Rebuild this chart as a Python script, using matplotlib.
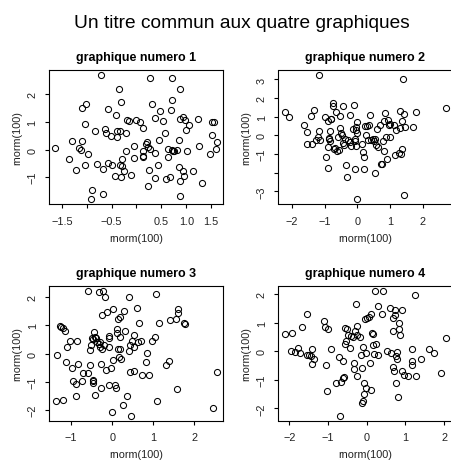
import matplotlib
matplotlib.use("Agg")
import matplotlib.pyplot as plt
import numpy as np

plt.rcParams['font.family'] = ['Liberation Sans', 'DejaVu Sans']

# ---- data (rnorm(100) vs rnorm(100)) ----
x1 = [-1.63, -1.35, -1.30, -1.22, -1.16, -1.12, -1.10, -1.10, -1.01, -1.04,
      -1.03, -0.97, -0.90, -0.91, -0.84, -0.80, -0.71, -0.67, -0.68, -0.64,
      -0.62, -0.58, -0.57, -0.52, -0.49, -0.42, -0.43, -0.40, -0.40, -0.36,
      -0.34, -0.34, -0.32, -0.32, -0.30, -0.29, -0.26, -0.21, -0.21, -0.19,
      -0.15, -0.12, -0.06, -0.05, -0.02, 0.07, 0.13, 0.13, 0.13, 0.14,
      0.19, 0.22, 0.24, 0.25, 0.24, 0.28, 0.28, 0.31, 0.38, 0.38,
      0.38, 0.44, 0.46, 0.47, 0.54, 0.58, 0.59, 0.63, 0.64, 0.67,
      0.70, 0.71, 0.71, 0.73, 0.75, 0.71, 0.81, 0.85, 0.86, 0.87,
      0.87, 0.87, 0.88, 0.93, 0.94, 0.95, 0.98, 1.00, 1.01, 1.05,
      1.14, 1.23, 1.26, 1.31, 1.48, 1.51, 1.52, 1.56, 1.59, 1.61]
y1 = [0.06, -0.33, 0.30, -0.75, 0.07, -0.01, 0.33, 1.52, 1.64, 0.92,
      -0.57, -0.16, -1.45, -1.80, 0.66, -0.51, 2.71, -1.59, -0.72, 0.73,
      0.61, 1.48, -0.47, 0.48, -0.54, 1.27, -0.96, 0.47, 0.66, 2.18,
      0.66, -0.54, -1.00, 1.71, -0.61, -0.33, -0.76, -0.04, 0.61, 1.08,
      1.02, -0.93, 0.13, -0.30, 1.06, 1.00, -0.04, -0.23, 0.80, -0.28,
      0.20, 0.27, 0.08, -0.73, -1.31, 0.01, 2.59, 1.64, -0.11, 1.14,
      -1.01, -0.57, 0.35, 1.39, 1.04, 0.59, -1.05, -0.27, 0.02, -0.98,
      1.45, 1.80, -0.01, -0.05, -0.06, 2.61, -0.02, 0.35, -0.63, 2.20,
      1.11, -1.14, -1.69, 1.19, -0.78, -0.95, 1.06, 0.71, -0.04, 0.88,
      -0.78, 1.12, 0.14, -1.22, -0.16, 0.53, 0.99, 1.01, 0.04, 0.28]

x2 = [-2.22, -2.10, -1.64, -1.56, -1.56, -1.42, -1.40, -1.32, -1.27, -1.20,
      -1.17, -1.17, -1.15, -0.98, -0.97, -0.91, -0.90, -0.89, -0.87, -0.86,
      -0.84, -0.84, -0.82, -0.80, -0.76, -0.74, -0.72, -0.70, -0.67, -0.63,
      -0.61, -0.58, -0.55, -0.53, -0.51, -0.48, -0.45, -0.43, -0.41, -0.38,
      -0.35, -0.31, -0.30, -0.23, -0.23, -0.19, -0.14, -0.10, -0.09, -0.07,
      -0.07, -0.06, -0.04, -0.02, -0.02, -0.05, 0.00, 0.15, 0.18, 0.19,
      0.21, 0.24, 0.27, 0.29, 0.31, 0.35, 0.37, 0.42, 0.47, 0.49,
      0.54, 0.55, 0.57, 0.59, 0.62, 0.68, 0.72, 0.75, 0.78, 0.80,
      0.82, 0.85, 0.87, 0.90, 0.94, 0.95, 0.98, 1.00, 1.11, 1.16,
      1.17, 1.27, 1.29, 1.31, 1.33, 1.35, 1.36, 1.39, 1.43, 1.43,
      1.46, 1.70, 1.80, 2.71]
y2 = [1.25, 0.96, 0.57, 0.18, -0.45, 1.05, -0.45, 1.38, -0.27, -0.09,
      0.21, 3.25, -0.27, 0.96, -1.18, 0.79, -1.75, -0.63, -0.14, -0.20,
      0.21, -0.29, 0.88, 0.89, 1.57, 1.75, -0.71, -0.68, 1.25, -0.82,
      -0.09, -0.79, 1.04, 0.39, 0.13, 0.04, 1.55, -0.39, -0.50, -0.18,
      -1.61, -2.21, -0.27, -0.38, 1.11, -0.57, 0.32, 1.64, -0.21, -1.79,
      -0.29, 0.29, -0.57, 0.71, 0.14, 0.45, -3.43, -0.45, -0.89, -1.16,
      -1.79, 0.50, 0.04, 0.52, -0.23, 0.54, 1.07, -0.23, -0.18, -0.32,
      -0.21, -2.02, -0.54, 0.36, -0.61, 0.57, -1.52, -1.55, -0.32, -0.86,
      0.75, 1.21, -0.07, -1.29, 0.82, 0.54, -0.11, 0.63, 0.54, -1.07,
      0.27, -0.96, 1.29, 0.39, -1.00, 0.75, -0.71, 3.04, 1.13, -3.18,
      0.45, 0.45, 1.23, 1.45]

x3 = [-1.37, -1.35, -1.28, -1.24, -1.20, -1.19, -1.14, -1.12, -1.11, -1.02,
      -0.97, -0.96, -0.89, -0.88, -0.85, -0.83, -0.74, -0.70, -0.59, -0.58,
      -0.55, -0.54, -0.51, -0.50, -0.48, -0.48, -0.47, -0.46, -0.44, -0.43,
      -0.41, -0.39, -0.37, -0.33, -0.32, -0.31, -0.29, -0.28, -0.27, -0.25,
      -0.24, -0.23, -0.21, -0.17, -0.15, -0.13, -0.09, -0.09, -0.07, -0.07,
      -0.03, -0.01, 0.02, 0.03, 0.07, 0.10, 0.11, 0.11, 0.13, 0.14,
      0.16, 0.18, 0.20, 0.20, 0.21, 0.26, 0.28, 0.31, 0.37, 0.40,
      0.41, 0.42, 0.43, 0.46, 0.48, 0.52, 0.54, 0.54, 0.60, 0.62,
      0.66, 0.70, 0.73, 0.83, 0.85, 0.89, 0.97, 1.03, 1.07, 1.09,
      1.13, 1.31, 1.37, 1.41, 1.54, 1.58, 1.59, 1.59, 1.74, 1.78,
      2.46, 2.55]
y3 = [-1.69, -0.06, 0.97, 0.93, 0.91, -1.63, 0.79, -0.30, 0.22, 0.46,
      -0.51, -0.96, -1.50, -1.07, 0.44, -0.37, -0.97, -0.70, -0.67, 2.22,
      0.13, -0.39, 0.31, 0.56, -0.98, -1.03, -0.92, 0.53, 0.75, 0.58,
      -1.48, 0.56, 0.43, 0.36, 2.17, 0.25, 0.40, -0.37, -1.22, 0.18,
      1.38, 2.21, 0.32, 1.99, -0.59, 1.46, 0.22, 0.63, 0.57, -1.10,
      -0.51, -2.07, -0.22, 1.57, -1.10, -1.22, 0.86, 0.72, 1.22, 0.15,
      -0.12, 0.58, 1.30, 0.15, -0.18, -1.83, 1.51, 0.80, -1.50, 2.01,
      0.08, 0.32, -0.65, -2.19, 0.44, 0.67, 0.22, -0.60, 1.60, 0.43,
      1.07, 0.44, -0.77, -0.30, 0.04, -0.77, 0.44, 0.59, 2.13, -1.69,
      1.10, -0.39, -0.27, 1.20, 1.22, -1.24, 1.59, 1.44, 1.10, 1.05,
      -1.92, -0.65]

x4 = [-2.11, -1.96, -1.92, -1.85, -1.78, -1.72, -1.66, -1.53, -1.53, -1.49,
      -1.45, -1.42, -1.40, -1.36, -1.10, -1.08, -1.05, -1.03, -0.99, -0.92,
      -0.79, -0.72, -0.69, -0.67, -0.62, -0.60, -0.58, -0.57, -0.55, -0.53,
      -0.50, -0.47, -0.43, -0.41, -0.36, -0.33, -0.32, -0.30, -0.28, -0.26,
      -0.24, -0.24, -0.16, -0.14, -0.13, -0.11, -0.10, -0.09, -0.07, -0.06,
      -0.04, -0.03, -0.01, 0.02, 0.07, 0.09, 0.10, 0.11, 0.14, 0.16,
      0.17, 0.19, 0.22, 0.24, 0.28, 0.28, 0.40, 0.43, 0.52, 0.59,
      0.63, 0.67, 0.69, 0.69, 0.71, 0.73, 0.74, 0.76, 0.76, 0.78,
      0.79, 0.81, 0.84, 0.84, 0.86, 0.91, 0.91, 0.97, 1.08, 1.16,
      1.16, 1.17, 1.25, 1.28, 1.41, 1.62, 1.75, 1.91, 2.05]
y4 = [0.62, 0.00, 0.64, -0.02, 0.13, -0.05, 0.84, -0.14, 1.31, -0.14,
      -0.16, -0.44, 0.07, -0.28, 1.05, 0.84, -0.47, -1.39, 0.77, 0.07,
      -1.12, -0.21, -2.25, -1.08, -0.33, -0.94, -0.89, 0.27, 0.82, 0.35,
      0.80, 0.58, 0.12, 0.54, 0.49, -0.42, -0.61, 0.70, 1.66, 0.56,
      -0.87, 0.89, 0.49, -0.14, -0.58, -1.82, 0.16, -1.75, -1.12, -1.50,
      1.15, -1.29, -0.07, 1.17, 1.19, -0.40, 1.31, -1.36, 0.65, 0.61,
      0.23, -0.09, 2.12, 0.26, -0.12, 1.58, 1.31, 2.12, 0.00, 1.53,
      -0.05, 0.73, 1.17, -0.55, -0.68, 1.29, 1.44, -1.10, -0.16, -0.28,
      -0.02, -1.59, 0.80, 1.01, 0.58, 1.44, -0.70, -0.84, -0.88, 0.07,
      -0.35, -0.49, 1.99, -0.88, -0.28, 0.07, -0.05, -0.75, 0.47]

titles = ["graphique numero 1", "graphique numero 2",
          "graphique numero 3", "graphique numero 4"]
main_title = "Un titre commun aux quatre graphiques"

xticks = [[-1.5, -1.0, -0.5, 0.0, 0.5, 1.0, 1.5], [-2, -1, 0, 1, 2],
          [-1, 0, 1, 2], [-2, -1, 0, 1, 2]]
xticklabels = [["\u22121.5", "", "\u22120.5", "", "0.5", "1.0", "1.5"],
               ["\u22122", "\u22121", "0", "1", "2"],
               ["\u22121", "0", "1", "2"],
               ["\u22122", "\u22121", "0", "1", "2"]]
yticks = [[-1, 0, 1, 2], [-3, -2, -1, 0, 1, 2, 3],
          [-2, -1, 0, 1, 2], [-2, -1, 0, 1, 2]]
yticklabels = [["\u22121", "0", "1", "2"],
               ["\u22123", "", "\u22121", "0", "1", "2", "3"],
               ["\u22122", "\u22121", "0", "1", "2"],
               ["\u22122", "\u22121", "0", "1", "2"]]

W, H = 452, 464
fig = plt.figure(figsize=(W / 100, H / 100), dpi=100)
# the original device was wider than the image, so the title sits right of centre
fig.text(242 / W, 1 - 23 / H, main_title, ha='center', va='center', fontsize=13.8)

# panel boxes in pixels: left, top
boxes = [(49, 70.8), (278.5, 70.8), (49.5, 287), (278.5, 287)]
bw, bh = 174, 134.5

data = [(x1, y1), (x2, y2), (x3, y3), (x4, y4)]
for i, (xs, ys) in enumerate(data):
    left, top = boxes[i]
    ax = fig.add_axes([left / W, 1 - (top + bh) / H, bw / W, bh / H])
    xs = np.array(xs)
    ys = np.array(ys)
    ax.plot(xs, ys, 'o', ms=4.4, mfc='none', mec='black', mew=0.75)
    # R-style 4% padding
    xr = xs.max() - xs.min()
    yr = ys.max() - ys.min()
    ax.set_xlim(xs.min() - 0.04 * xr, xs.max() + 0.04 * xr)
    ax.set_ylim(ys.min() - 0.04 * yr, ys.max() + 0.04 * yr)
    ax.set_xticks(xticks[i])
    ax.set_xticklabels(xticklabels[i])
    ax.set_yticks(yticks[i])
    ax.set_yticklabels(yticklabels[i], rotation=90, va='center')
    ax.tick_params(direction='out', length=3, width=0.8, labelsize=7.8,
                   colors='black', labelcolor='#222222')
    ax.tick_params(axis='x', pad=5.5)
    ax.tick_params(axis='y', pad=5.5)
    for sp in ax.spines.values():
        sp.set_linewidth(0.8)
    ax.set_title(titles[i], fontsize=9, fontweight='bold', pad=7)
    ax.set_xlabel("rnorm(100)", fontsize=7.8, va='center', color='#222222')
    ax.xaxis.set_label_coords(0.5, -34 / bh)
    ax.set_ylabel("rnorm(100)", fontsize=7.8, va='center', color='#222222')
    ax.yaxis.set_label_coords(-32 / bw, 0.5)

fig.savefig("out.png", dpi=100)
